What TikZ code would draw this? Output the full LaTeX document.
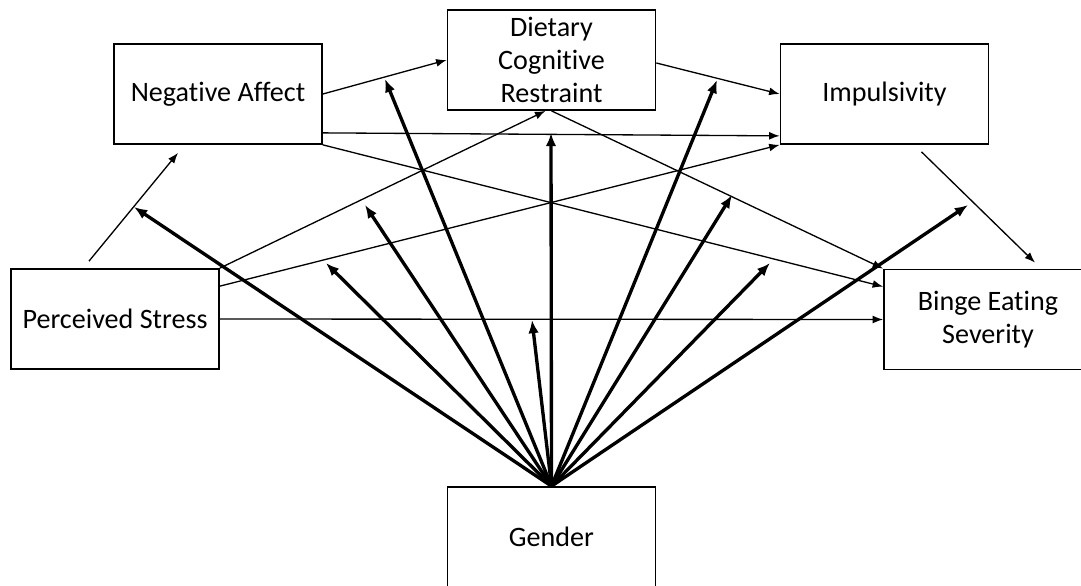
\documentclass[tikz,border=0pt]{standalone}
\usepackage{fontspec}
\setmainfont{Carlito}[Ligatures=NoCommon]
\usetikzlibrary{arrows.meta,calc}

\begin{document}
\begin{tikzpicture}[
    x=0.02cm, y=-0.02cm,
    box/.style={draw, line width=1pt, minimum width=4.16cm, minimum height=2cm, inner sep=0pt, align=center, font=\fontsize{16}{19}\selectfont},
    arrow/.style={-{Latex[length=6pt,width=4.5pt]}, line width=0.75pt},
    bold arrow/.style={-{Latex[length=7.5pt,width=6pt]}, line width=1.9pt}
]
\useasboundingbox (0,0) rectangle (1081,585);
\clip (0,0) rectangle (1081,585);

\node[box] at (218,94) (affect) {Negative Affect};
\node[box] at (551.5,60) (restraint) {Dietary\\Cognitive\\Restraint};
\node[box] at (884.5,94) (impuls) {Impulsivity};
\node[box] at (115,319) (stress) {Perceived Stress};
\node[box] at (988,319.5) (binge) {Binge Eating\\Severity};
\node[box] at (551.5,537) (gender) {Gender};

% paths between the constructs
\draw[arrow] ($(stress.north)+(-26,-7)$) -- ($(affect.south)+(-40,8)$);
\draw[arrow] (affect.east) -- (restraint.west);
\draw[arrow] ($(affect.south east)+(0,-12)$) -- ($(impuls.south west)+(0,-9)$);
\draw[arrow] (affect.south east) -- ($(binge.north west)+(0,18)$);
\draw[arrow] ($(restraint.east)+(0,3)$) -- (impuls.west);
\draw[arrow] (restraint.south) -- (binge.north west);
\draw[arrow] (stress.north east) -- ($(restraint.south)+(-6,0)$);
\draw[arrow] ($(stress.north east)+(0,18)$) -- (impuls.south west);
\draw[arrow] (stress.east) -- (binge.west);
\draw[arrow] ($(impuls.south)+(37,7)$) -- ($(binge.north)+(47,-6)$);

% gender as moderator
\foreach \x/\y [count=\i] in {134/207, 326/263, 365/205, 385/79, 551/133, 532/320, 717/80, 732/195, 770/263, 968/205}
    \coordinate (mod\i) at (\x,\y);
\foreach \i in {1,...,10}
    \draw[bold arrow] (gender.north) -- (mod\i);
\end{tikzpicture}
\end{document}
